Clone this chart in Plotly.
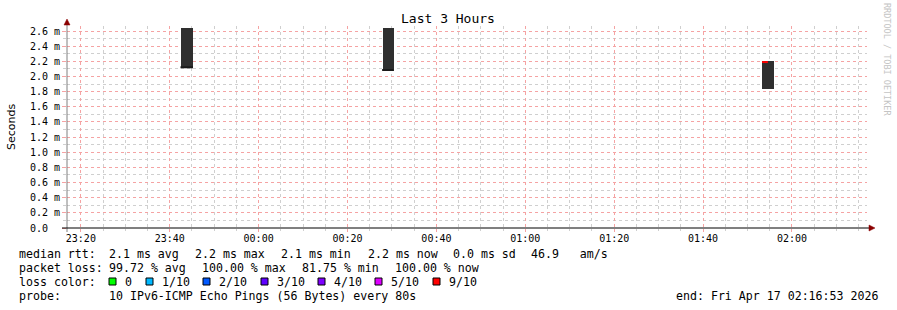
import plotly.graph_objects as go

# ---------------- data ----------------
range_start = "2026-04-16 23:16:53"
range_end = "2026-04-17 02:16:53"

# smoke bars (centre time, low, high) in milliseconds
smoke_times = ["2026-04-16 23:43:50", "2026-04-17 00:29:13", "2026-04-17 01:54:35"]
smoke_low = [2.115, 2.078, 1.835]
smoke_high = [2.64, 2.64, 2.205]
smoke_width_s = 160

# median segments
median_start = ["2026-04-16 23:42:25", "2026-04-17 00:27:47", "2026-04-17 01:53:17"]
median_end = ["2026-04-16 23:45:14", "2026-04-17 00:30:21", "2026-04-17 01:54:35"]
median_val = [2.121, 2.085, 2.19]
median_col = ["#1a1a1a", "#1a1a1a", "#ff0000"]

y_tick_vals = [0.0, 0.2, 0.4, 0.6, 0.8, 1.0, 1.2, 1.4, 1.6, 1.8, 2.0, 2.2, 2.4, 2.6]
y_tick_text = ["0.0\u00a0\u00a0"] + [f"{v:.1f} m" for v in y_tick_vals[1:]]

loss_labels = ["0", "1/10", "2/10", "3/10", "4/10", "5/10", "9/10"]
loss_colors = ["#00ff00", "#00b8ff", "#0059ff", "#5e00ff", "#7e00ff", "#dd00ff", "#ff0000"]

# ---------------- layout geometry (pixels) ----------------
W, H = 897, 310
L, R, T, B = 67, 867, 26, 228
PW, PH = R - L, B - T


def px(x):
    return (x - L) / PW


def py(y):
    return (B - y) / PH


MONO = "DejaVu Sans Mono"

fig = go.Figure()

fig.add_trace(go.Bar(
    x=smoke_times,
    y=[h - l for h, l in zip(smoke_high, smoke_low)],
    base=smoke_low,
    width=[smoke_width_s * 1000] * len(smoke_times),
    marker=dict(color="#2f2f2f", line=dict(width=0)),
    showlegend=False,
    hoverinfo="skip",
))

for s, e, v, c in zip(median_start, median_end, median_val, median_col):
    fig.add_trace(go.Scatter(
        x=[s, e], y=[v, v], mode="lines",
        line=dict(color=c, width=2),
        showlegend=False, hoverinfo="skip",
    ))

grid_major = "#f5a3a3"
grid_minor = "#cfcfcf"

fig.update_xaxes(
    type="date",
    range=[range_start, range_end],
    tick0="2026-04-16 23:20:00",
    dtick=20 * 60 * 1000,
    tickformat="%H:%M",
    showgrid=True, gridcolor=grid_major, griddash="dot", gridwidth=1,
    minor=dict(dtick=5 * 60 * 1000, showgrid=True, gridcolor=grid_minor,
               griddash="dot", gridwidth=1, ticks="outside", ticklen=2,
               tickcolor=grid_minor),
    ticks="outside", ticklen=3, tickcolor=grid_major,
    ticklabelstandoff=-2,
    showline=False, zeroline=False,
    tickfont=dict(family=MONO, size=10, color="#000000"),
    fixedrange=True,
)
fig.update_yaxes(
    range=[0, 2.666],
    tickvals=y_tick_vals, ticktext=y_tick_text,
    showgrid=True, gridcolor=grid_major, griddash="dot", gridwidth=1,
    minor=dict(dtick=0.1, tick0=0, showgrid=True, gridcolor=grid_minor,
               griddash="dot", gridwidth=1, ticks="outside", ticklen=3,
               tickcolor=grid_minor),
    ticks="outside", ticklen=4, tickcolor=grid_major,
    showline=False, zeroline=False,
    tickfont=dict(family=MONO, size=10, color="#000000"),
    fixedrange=True,
)

shapes = []
# y axis line and arrow
shapes.append(dict(type="line", xref="paper", yref="paper",
                   x0=px(67), x1=px(67), y0=py(232), y1=py(22),
                   line=dict(color="#808080", width=1)))
shapes.append(dict(type="path", xref="paper", yref="paper",
                   path=f"M {px(64)} {py(25)} L {px(70)} {py(25)} L {px(67)} {py(19)} Z",
                   fillcolor="#8b0000", line=dict(color="#8b0000", width=0.5)))
# x axis line and arrow
shapes.append(dict(type="line", xref="paper", yref="paper",
                   x0=px(62), x1=px(870), y0=py(228), y1=py(228),
                   line=dict(color="#000000", width=1)))
shapes.append(dict(type="path", xref="paper", yref="paper",
                   path=f"M {px(869)} {py(225)} L {px(869)} {py(231)} L {px(875)} {py(228)} Z",
                   fillcolor="#8b0000", line=dict(color="#8b0000", width=0.5)))

annotations = []


def txt(x, y, s, size=11.6, family=MONO, color="#000000", anchor="left", angle=0):
    annotations.append(dict(
        x=px(x), y=py(y), xref="paper", yref="paper", text=s,
        showarrow=False, xanchor=anchor, yanchor="middle",
        font=dict(family=family, size=size, color=color),
        textangle=angle,
    ))


txt(448, 19, "Last 3 Hours", size=13, anchor="center")
txt(11, 127, "Seconds", size=11, family="DejaVu Sans", anchor="center", angle=-90)
txt(887, 60, "RRDTOOL / TOBI OETIKER", size=8.5, color="#c4c4c4", anchor="center", angle=90)

# legend lines
sp = "\u00a0"
line1 = [(16.5, "median rtt:"), (107.3, "2.1 ms avg"), (193.3, "2.2 ms max"),
         (279.3, "2.1 ms min"), (365.7, "2.2 ms now"),
         (451, "0.0 ms sd"), (529, f"46.9{sp*3}am/s")]
line2 = [(16.5, "packet loss:"), (107.3, "99.72 % avg"), (200.3, "100.00 % max"),
         (300.3, "81.75 % min"), (393.3, "100.00 % now")]
for x, s in line1:
    txt(x, 254, s)
for x, s in line2:
    txt(x, 268, s)

txt(16.5, 282, "loss color:")
sq_x = [109, 146, 203, 261, 318, 375, 433]
for sx, lab, col in zip(sq_x, loss_labels, loss_colors):
    shapes.append(dict(type="rect", xref="paper", yref="paper",
                       x0=px(sx), x1=px(sx + 7), y0=py(278), y1=py(285),
                       fillcolor=col, line=dict(color="#000000", width=1)))
    txt(sx + 14, 282, lab)

txt(16.5, 296, "probe:")
txt(107.3, 296, "10 IPv6-ICMP Echo Pings (56 Bytes) every 80s")
txt(880, 296, "end: Fri Apr 17 02:16:53 2026", anchor="right")

fig.update_layout(
    width=W, height=H,
    margin=dict(l=L, r=W - R, t=T, b=H - B, pad=0),
    paper_bgcolor="#ffffff", plot_bgcolor="#ffffff",
    shapes=shapes, annotations=annotations,
    showlegend=False, bargap=0,
)

fig.write_html("out.html", config={"displayModeBar": False})
